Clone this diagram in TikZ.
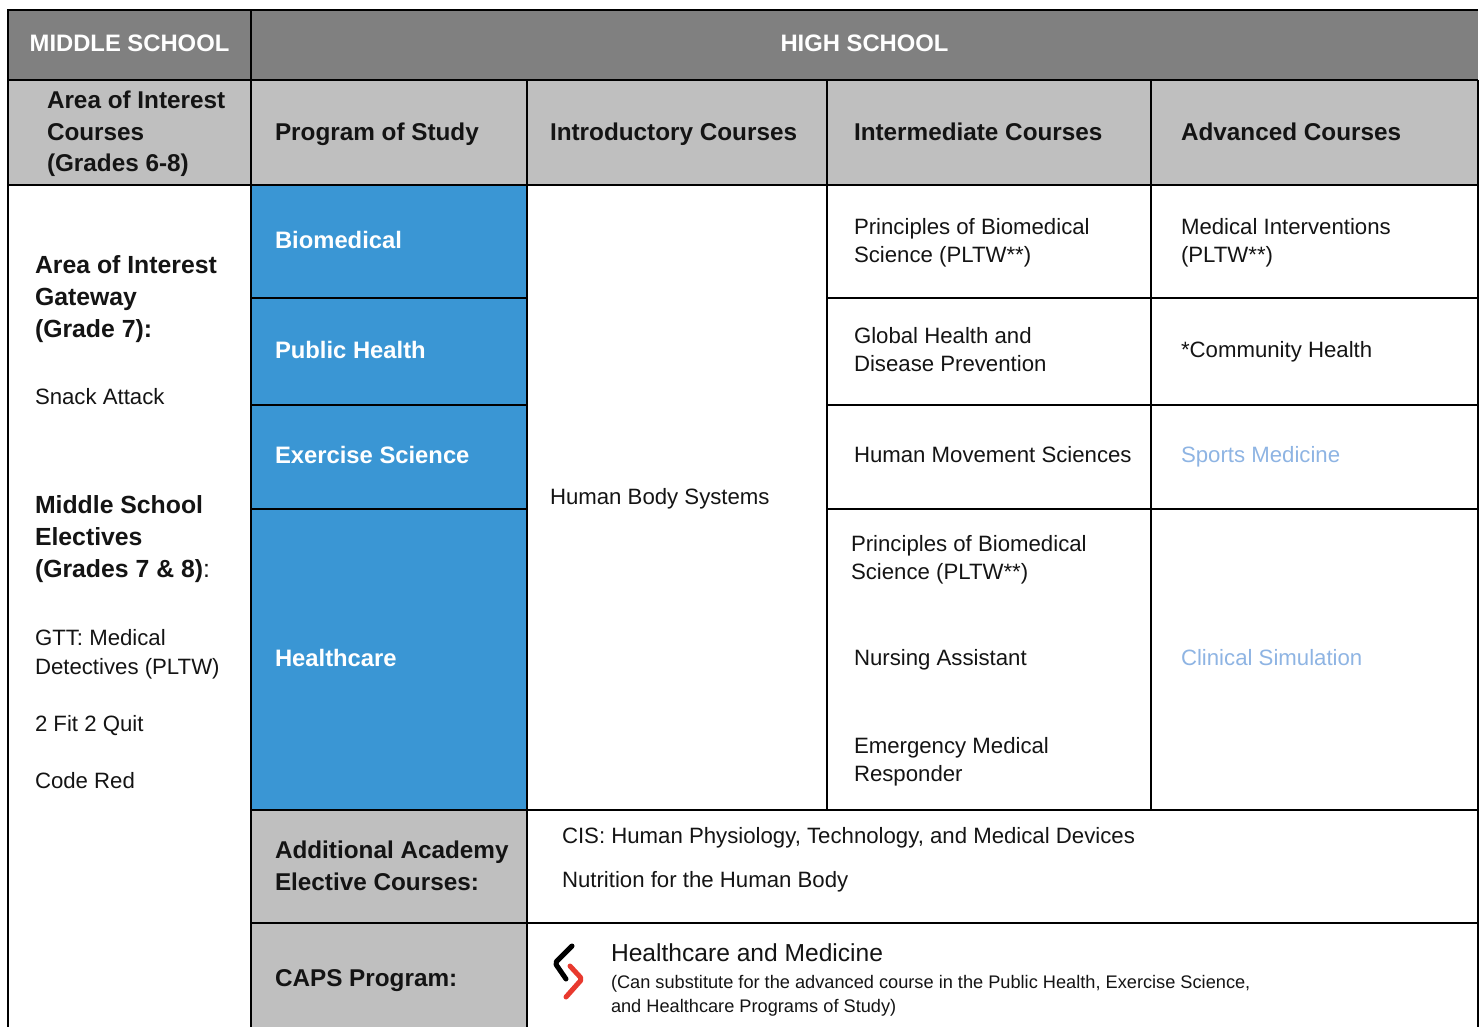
\documentclass[tikz,border=0pt]{standalone}
\usepackage{fontspec}
\setmainfont{Liberation Sans}
\definecolor{hdrgray}{HTML}{808080}
\definecolor{subgray}{HTML}{BFBFBF}
\definecolor{progblue}{HTML}{3A96D4}
\definecolor{lightblue}{HTML}{8EB4E3}
\definecolor{capsred}{HTML}{E8392E}
\definecolor{txt}{HTML}{141414}
\begin{document}
\begin{tikzpicture}[x=1pt,y=-1pt,
  every node/.style={inner sep=0pt,outer sep=0pt},
  dn/.style={yshift=-2pt},
  toph/.style={font=\fontsize{23.8}{28}\selectfont\bfseries,text=white},
  colh/.style={font=\fontsize{24.3}{31.5}\selectfont\bfseries,text=txt,anchor=west,align=left},
  prog/.style={font=\fontsize{23.8}{28}\selectfont\bfseries,text=white,anchor=west},
  body/.style={font=\fontsize{22.2}{28}\selectfont,text=txt,anchor=west,align=left},
  lbold/.style={font=\fontsize{24.8}{32}\selectfont\bfseries,text=txt,anchor=west,align=left},
  ltxt/.style={font=\fontsize{22.2}{28.5}\selectfont,text=txt,anchor=west,align=left},
  optc/.style={font=\fontsize{22.2}{28}\selectfont,text=lightblue,anchor=west},
  small/.style={font=\fontsize{18.2}{24}\selectfont,text=txt,anchor=west,align=left},
  grid/.style={line width=2.6pt,black},
  logo/.style={line width=5pt,line cap=round,line join=round,rounded corners=2pt}]
\useasboundingbox (0,0) rectangle (1482,1027);
% fills
\fill[hdrgray] (8,10) rectangle (1478,80);
\fill[subgray] (8,80) rectangle (1478,185);
\fill[progblue] (251,185) rectangle (527,810);
\fill[subgray] (251,810) rectangle (527,1027);
% grid
\draw[grid] (8,1027) -- (8,10) -- (1478,10);
\draw[grid] (1478,80) -- (1478,1027);
\draw[grid] (8,80) -- (1478,80);
\draw[grid] (8,185) -- (1478,185);
\draw[grid] (251,10) -- (251,1027);
\draw[grid] (527,80) -- (527,1027);
\draw[grid] (827,80) -- (827,810);
\draw[grid] (1151,80) -- (1151,810);
\foreach \yy in {298,405,509}{
  \draw[grid] (251,\yy) -- (527,\yy);
  \draw[grid] (827,\yy) -- (1478,\yy);
}
\draw[grid] (251,810) -- (1478,810);
\draw[grid] (251,923) -- (1478,923);
% top header
\node[toph] (ms) at (129.5,43) {MIDDLE SCHOOL};
\node[toph] (hs) at (864.5,43) {HIGH SCHOOL};
% column headers
\node[colh,dn] (aoi) at (47,132) {Area of Interest\\Courses\\(Grades 6-8)};
\node[colh,dn] (pos) at (275,132) {Program of Study};
\node[colh,dn] (intro) at (550,132) {Introductory Courses};
\node[colh] (inter) at (854,132) {Intermediate Courses};
\node[colh] (adv) at (1181,132) {Advanced Courses};
% programs
\node[prog] (bio) at (275,240) {Biomedical};
\node[prog] (ph) at (275,350) {Public Health};
\node[prog] (ex) at (275,455) {Exercise Science};
\node[prog] (hc) at (275,658) {Healthcare};
% left column
\node[lbold,dn] (gw) at (35,297) {Area of Interest\\Gateway\\(Grade 7):};
\node[ltxt] (snack) at (35,397) {Snack Attack};
\node[lbold,dn] (mse) at (35,537) {Middle School\\Electives\\(Grades 7 \& 8)\mdseries:};
\node[ltxt,dn] (gtt) at (35,652) {GTT: Medical\\Detectives (PLTW)};
\node[ltxt,dn] (fit) at (35,724) {2 Fit 2 Quit};
\node[ltxt] (code) at (35,781) {Code Red};
% introductory
\node[body,dn] (hbs) at (550,497) {Human Body Systems};
% intermediate
\node[body,dn] (pbs1) at (854,241) {Principles of Biomedical\\Science (PLTW**)};
\node[body] (ghdp) at (854,350) {Global Health and\\Disease Prevention};
\node[body] (hms) at (854,455) {Human Movement Sciences};
\node[body,dn] (pbs2) at (851,558) {Principles of Biomedical\\Science (PLTW**)};
\node[body,dn] (na) at (854,658) {Nursing Assistant};
\node[body,dn] (emr) at (854,760) {Emergency Medical\\Responder};
% advanced
\node[body,dn] (mi) at (1181,241) {Medical Interventions\\(PLTW**)};
\node[body,dn] (ch) at (1181,350) {*Community Health};
\node[optc,dn] (sm) at (1181,455) {Sports Medicine};
\node[optc] (cs) at (1181,658) {Clinical Simulation};
% additional
\node[colh,font=\fontsize{24.3}{32}\selectfont\bfseries] (aae) at (275,866) {Additional Academy\\Elective Courses:};
\node[body,dn] (cis) at (562,836) {CIS: Human Physiology, Technology, and Medical Devices};
\node[body,dn] (nut) at (562,880) {Nutrition for the Human Body};
% caps
\node[colh,yshift=-3pt] (caps) at (275,978) {CAPS Program:};
\coordinate (k1) at (572,946);
\coordinate (k2) at (555,963);
\coordinate (k3) at (566,979);
\coordinate (r1) at (570,966);
\coordinate (r2) at (582,979);
\coordinate (r3) at (566,997);
\draw[logo,black] (k1) -- (k2) -- (k3);
\draw[logo,capsred] (r1) -- (r2) -- (r3);
\node[body,font=\fontsize{24.6}{28}\selectfont] (ham) at (611,953) {Healthcare and Medicine};
\node[small,dn] (sub) at (611,994) {(Can substitute for the advanced course in the Public Health, Exercise Science,\\and Healthcare Programs of Study)};
\end{tikzpicture}
\end{document}
